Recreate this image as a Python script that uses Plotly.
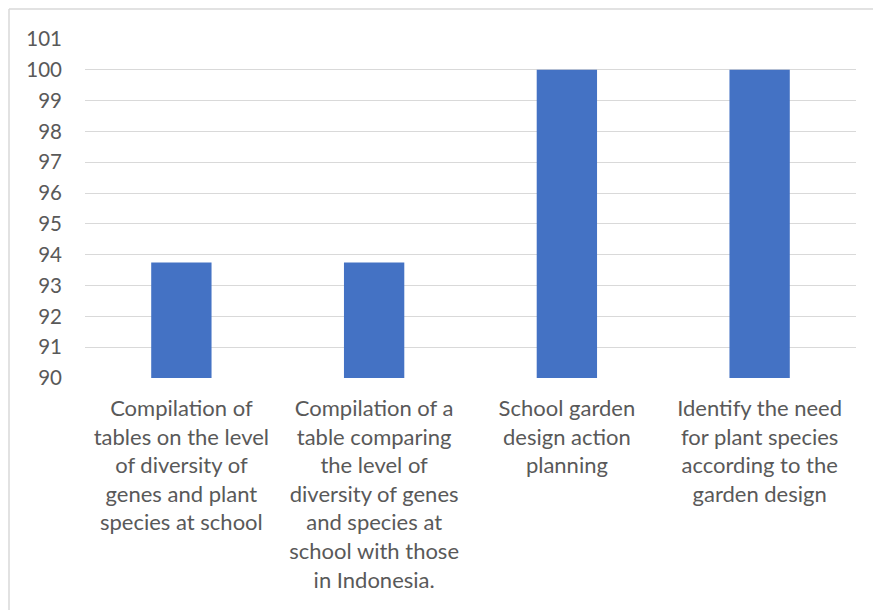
import plotly.graph_objects as go

categories = [
    "Compilation of<br>tables on the level<br>of diversity of<br>genes and plant<br>species at school",
    "Compilation of a<br>table comparing<br>the level of<br>diversity of genes<br>and species at<br>school with those<br>in Indonesia.",
    "School garden<br>design action<br>planning",
    "Identify the need<br>for plant species<br>according to the<br>garden design",
]
values = [93.75, 93.75, 100, 100]
y_ticks = list(range(90, 102))

W, H = 873, 610
L, R, T, B = 85, 17, 39, 232
pw, ph = W - L - R, H - T - B

fig = go.Figure(go.Bar(x=categories, y=values, marker=dict(color="#4472C4", line=dict(width=0)),
                       width=0.313))

yfont = dict(family="Lato, Carlito, Calibri, sans-serif", size=20.5, color="#595959")
xfont = dict(family="Lato, Carlito, Calibri, sans-serif", size=22, color="#595959")
fig.update_layout(
    width=W, height=H,
    margin=dict(l=L, r=R, t=T, b=B, autoexpand=False),
    paper_bgcolor="white", plot_bgcolor="white",
    showlegend=False,
    font=yfont,
)
fig.update_yaxes(range=[90, 101], tickvals=y_ticks, showgrid=True, gridcolor="#d9d9d9", gridwidth=1,
                 zeroline=False, showline=False, ticks="", ticklabelstandoff=22, tickfont=yfont)
fig.update_xaxes(showgrid=False, showline=False, ticks="", ticklabelstandoff=15, tickfont=xfont,
                 tickangle=0)

# chart container border (top and left visible)
x0 = (9 - L) / pw
y1 = (H - B - 9) / ph
fig.add_shape(type="line", xref="paper", yref="paper", x0=x0, x1=1.2, y0=y1, y1=y1,
              line=dict(color="#d9d9d9", width=1.5))
fig.add_shape(type="line", xref="paper", yref="paper", x0=x0, x1=x0, y0=y1, y1=-1.2,
              line=dict(color="#d9d9d9", width=1.5))

fig.write_html("out.html")
